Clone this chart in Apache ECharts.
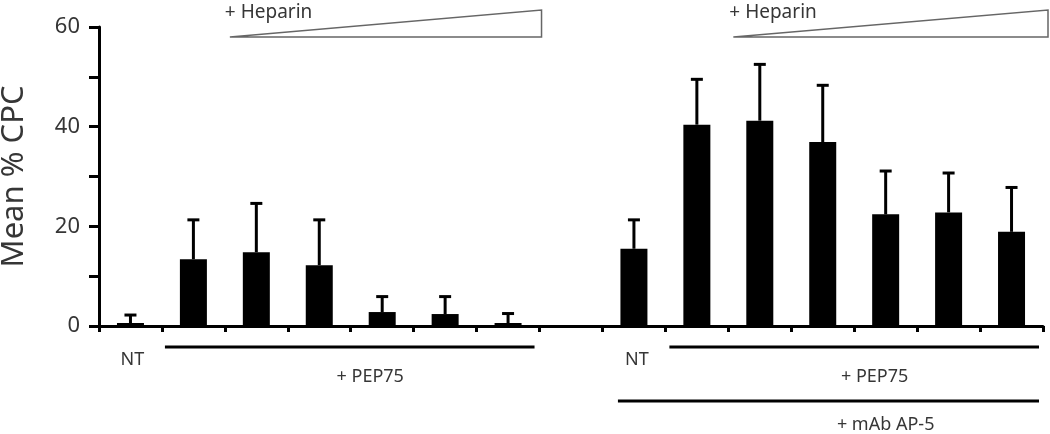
<!DOCTYPE html>
<html><head><meta charset="utf-8">
<script src="https://cdn.jsdelivr.net/npm/echarts@6/dist/echarts.min.js"></script>
<style>html,body{margin:0;padding:0;background:#fff}#c{width:1050px;height:434px}</style>
</head><body><div id="c"></div>
<script>
// 15 slots: 7 (no mAb) + gap + 7 (+ mAb AP-5)
const categories = ['NT','P1','P2','P3','P4','P5','P6','gap','NT-mAb','P1-mAb','P2-mAb','P3-mAb','P4-mAb','P5-mAb','P6-mAb'];
const meanCPC = [0.6, 13.4, 14.8, 12.2, 2.8, 2.4, 0.6, null, 15.5, 40.4, 41.2, 36.9, 22.4, 22.8, 18.9];
const errCPC  = [1.6, 7.9, 9.8, 9.1, 3.1, 3.5, 1.9, null, 5.8, 9.1, 11.3, 11.4, 8.7, 7.9, 8.9];
const yTicks = [0, 20, 40, 60];

const FONT = '"Noto Sans", "Open Sans", sans-serif';
const TXT = '#363636';
const chart = echarts.init(document.getElementById('c'), null, {renderer:'canvas'});

const errData = meanCPC.map((m,i)=> m==null ? null : [i, m, m+errCPC[i]]).filter(d=>d);

chart.setOption({
  animation:false,
  grid:{left:99, right:7, top:27, bottom:108, containLabel:false, outerBoundsMode:'none'},
  xAxis:{
    type:'category', data:categories, boundaryGap:true,
    axisLine:{show:true, lineStyle:{color:'#000', width:3}},
    axisTick:{show:true, interval:0, length:6, lineStyle:{color:'#000', width:3}},
    axisLabel:{show:false}, splitLine:{show:false}
  },
  yAxis:{
    type:'value', min:0, max:60, interval:10,
    name:'Mean % CPC', nameLocation:'middle', nameGap:69,
    nameTextStyle:{fontFamily:FONT, fontSize:31, color:TXT},
    axisLine:{show:true, lineStyle:{color:'#000', width:3}},
    axisTick:{show:true, length:10, lineStyle:{color:'#000', width:3}},
    axisLabel:{fontFamily:FONT, fontSize:22, color:TXT, margin:19,
      formatter:v=> yTicks.indexOf(v)>=0 ? String(v) : ''},
    splitLine:{show:false}
  },
  series:[
    {type:'bar', data:meanCPC.map(v=>v==null?'-':v), barWidth:27, itemStyle:{color:'#000'}, z:2},
    {type:'custom', data:errData, z:3,
      encode:{x:0, y:[1,2]},
      renderItem:(params, api)=>{
        const x = api.value(0);
        const p0 = api.coord([x, api.value(1)]);
        const p1 = api.coord([x, api.value(2)]);
        const st = {stroke:'#000', lineWidth:3};
        return {type:'group', children:[
          {type:'line', shape:{x1:p0[0], y1:p0[1], x2:p1[0], y2:p1[1]}, style:st},
          {type:'line', shape:{x1:p1[0]-6, y1:p1[1], x2:p1[0]+6, y2:p1[1]}, style:st}
        ]};
      }
    }
  ]
});

// annotations placed from the axis scales
const cx = i => chart.convertToPixel({xAxisIndex:0}, i);
const w = cx(1) - cx(0);
const bd = i => cx(i) - w/2;            // left boundary of slot i
const y0 = chart.convertToPixel({yAxisIndex:0}, 0);
const yTop = chart.convertToPixel({yAxisIndex:0}, 60);
const g = [];
function tri(xl, xr){
  g.push({type:'polygon', shape:{points:[[xl, yTop+10],[xr, yTop+10],[xr, yTop-17]]},
    style:{fill:'none', stroke:'#666', lineWidth:1.5}});
}
function txt(x, y, s, align){
  g.push({type:'text', x:x, y:y, style:{text:s, font:'18px '+FONT, fill:TXT, align:align||'center', verticalAlign:'middle'}});
}
function hline(x1, x2, y){
  g.push({type:'line', shape:{x1:x1, y1:y, x2:x2, y2:y}, style:{stroke:'#000', lineWidth:3}});
}
tri(bd(2)+5, bd(7)+2);
tri(bd(10)+5, bd(15)+5);
g.push({type:'text', x:bd(2), y:yTop-14, style:{text:'+ Heparin', font:'19px '+FONT, fill:TXT, align:'left', verticalAlign:'middle'}});
g.push({type:'text', x:bd(10)+1, y:yTop-14, style:{text:'+ Heparin', font:'19px '+FONT, fill:TXT, align:'left', verticalAlign:'middle'}});
txt(cx(0)+2, y0+34, 'NT');
hline(bd(1)+3, bd(7)-5, y0+21);
txt(cx(4)-12, y0+51, '+ PEP75');
txt(cx(8)+3, y0+34, 'NT');
hline(bd(9)+4, bd(15)-4, y0+21);
txt(cx(11.5)-11, y0+51, '+ PEP75');
hline(cx(8)-16, bd(15)-4, y0+75);
txt(cx(11.5), y0+99, '+ mAb AP-5');
chart.setOption({graphic:g});
</script></body></html>
